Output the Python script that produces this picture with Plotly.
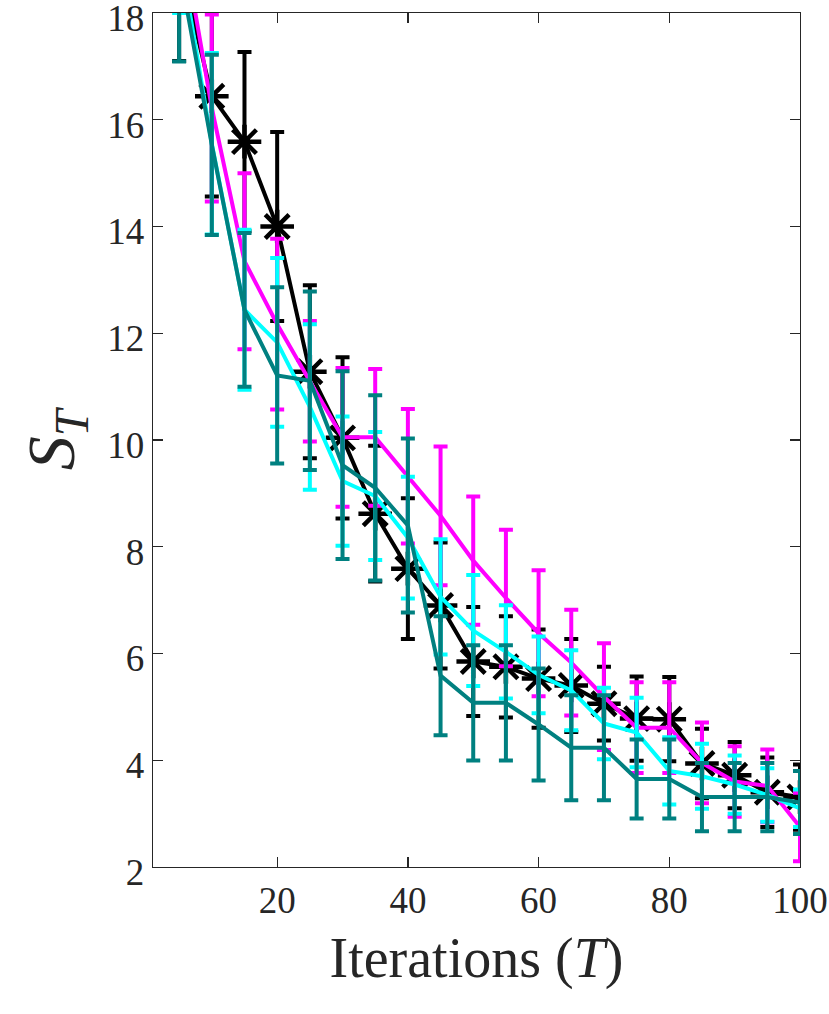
import plotly.graph_objects as go

iterations = [5, 10, 15, 20, 25, 30, 35, 40, 45, 50, 55, 60, 65, 70, 75, 80, 85, 90, 95, 100]

black_mean = [19.0, 16.44, 15.59, 14.0, 11.28, 10.04, 8.62, 7.59, 6.90, 5.85,
              5.75, 5.53, 5.40, 5.06, 4.78, 4.77, 3.94, 3.72, 3.40, 3.31]
black_err = [1.9, 1.88, 1.68, 1.77, 1.62, 1.51, 1.27, 1.32, 1.18, 1.02,
             0.95, 0.92, 0.87, 0.69, 0.79, 0.79, 0.65, 0.62, 0.65, 0.61]

magenta_mean = [19.75, 16.22, 13.35, 12.17, 11.1, 10.05, 10.05, 9.32, 8.58, 7.74,
                7.04, 6.38, 5.83, 5.19, 4.61, 4.61, 3.95, 3.60, 3.52, 2.75]
magenta_err = [1.5, 1.75, 1.65, 1.6, 1.13, 1.30, 1.28, 1.26, 1.30, 1.20,
               1.28, 1.18, 0.99, 1.0, 0.85, 0.85, 0.755, 0.66, 0.68, 0.64]

cyan_mean = [19.2, 15.55, 12.44, 11.83, 10.62, 9.23, 8.95, 8.17, 7.06, 6.43,
             6.03, 5.60, 5.31, 4.69, 4.52, 3.80, 3.70, 3.545, 3.35, 3.10]
cyan_err = [1.2, 1.7, 1.5, 1.58, 1.55, 1.21, 1.2, 1.14, 1.08, 1.04,
            0.875, 0.72, 0.75, 0.67, 0.65, 0.63, 0.61, 0.545, 0.5, 0.35]

teal_mean = [18.87, 15.53, 12.44, 11.21, 11.11, 9.53, 9.105, 8.40, 5.585, 5.075,
             5.075, 4.67, 4.235, 4.235, 3.65, 3.65, 3.31, 3.31, 3.31, 3.21]
teal_err = [1.78, 1.69, 1.44, 1.65, 1.67, 1.76, 1.735, 1.63, 1.115, 1.08,
            1.08, 1.05, 0.985, 0.985, 0.74, 0.74, 0.64, 0.64, 0.64, 0.59]

x_ticks = [20, 40, 60, 80, 100]
y_ticks = [2, 4, 6, 8, 10, 12, 14, 16, 18]

series = [
    ("black", "#000000", black_mean, black_err, True),
    ("magenta", "#FF00FF", magenta_mean, magenta_err, False),
    ("cyan", "#00FFFF", cyan_mean, cyan_err, False),
    ("teal", "#008080", teal_mean, teal_err, False),
]

FONT = "Liberation Serif, Times New Roman, serif"

fig = go.Figure()
for name, color, mean, err, star in series:
    fig.add_trace(go.Scatter(
        x=iterations, y=mean, name=name,
        mode="lines+markers" if star else "lines",
        line=dict(color=color, width=4),
        marker=dict(symbol="asterisk-open", size=28, color=color,
                    line=dict(color=color, width=4.5)) if star else None,
        error_y=dict(type="data", array=err, visible=True, color=color,
                     thickness=4, width=7),
        cliponaxis=True,
        showlegend=False,
        hoverinfo="skip",
    ))

axis_common = dict(
    showline=True, linecolor="#262626", linewidth=1.3, mirror="ticks",
    ticks="inside", ticklen=10, tickwidth=1.3, tickcolor="#262626",
    showgrid=False, zeroline=False, automargin=False,
    ticklabeloverflow="allow",
    tickfont=dict(family=FONT, size=37, color="#262626"),
)

fig.update_xaxes(range=[1, 100], tickvals=x_ticks,
                 title=dict(text="Iterations (<i>T</i>)",
                            font=dict(family=FONT, size=56, color="#262626"),
                            standoff=18),
                 **axis_common)
fig.update_yaxes(range=[2, 18], tickvals=y_ticks, ticklabelshift=5,
                 title=dict(text="<i>S</i><sub><i>T</i></sub>",
                            font=dict(family=FONT, size=68, color="#262626"),
                            standoff=10),
                 **axis_common)

fig.update_layout(
    width=829, height=1014,
    margin=dict(l=153, r=29, t=13, b=147, autoexpand=False),
    paper_bgcolor="white", plot_bgcolor="white",
)

fig.write_html("out.html", config={"displayModeBar": False, "staticPlot": True},
               post_script="document.body.style.margin='0';document.body.style.overflow='hidden';")
